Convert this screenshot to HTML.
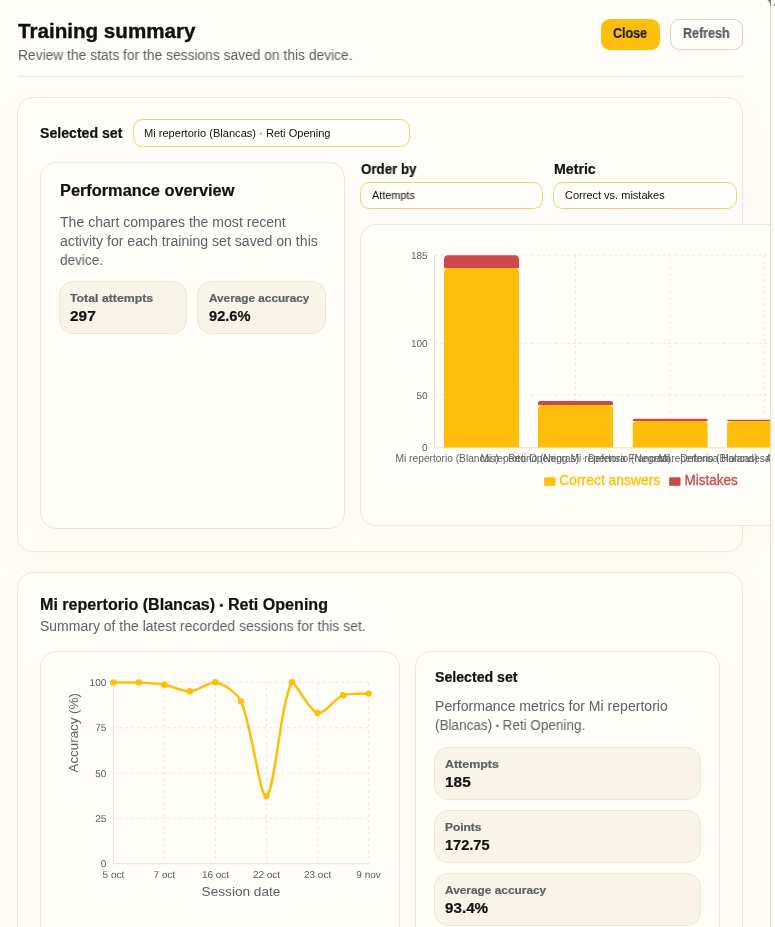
<!DOCTYPE html>
<html><head><meta charset="utf-8"><title>Training summary</title>
<style>
*{box-sizing:border-box;margin:0;padding:0}
html,body{width:775px;height:927px;overflow:hidden;background:#fffdf8;font-family:"Liberation Sans",sans-serif;color:#111}
#root{position:relative;width:775px;height:927px;overflow:hidden;background:#fffdf8}
.a{position:absolute}
.t{position:absolute;white-space:nowrap;line-height:1;transform-origin:0 0;will-change:transform}
.b{font-weight:bold;-webkit-text-stroke:.2px currentColor}
#title{-webkit-text-stroke:.35px #111}
svg{will-change:transform}
.card{position:absolute;border:1px solid #f1e6d3;border-radius:16px;background:#fffdf8}
.card{box-shadow:0 8px 20px rgba(215,165,80,.03)}
.outer{box-shadow:0 10px 24px rgba(215,165,80,.065)}
.stat{position:absolute;border:1px solid #f0e6d2;border-radius:14px;background:#f8f4ea}
.sel{position:absolute;border:1px solid #f3cf78;border-radius:9.500px;background:#fffefb;height:27px}
.g{color:#5d6168}
</style></head><body>
<div id="root">

<!-- header -->
<div class="t b" id="title" style="left:18.4px;top:21px;font-size:20px;transform:scaleX(1.030)">Training summary</div>
<div class="t g" id="subtitle" style="left:18.3px;top:48px;font-size:14px;transform:scaleX(0.986)">Review the stats for the sessions saved on this device.</div>
<div class="a" style="left:601px;top:19px;width:59px;height:30.700px;border-radius:9px;background:#fdbf0c"></div>
<div class="t b" id="close" style="left:613.3px;top:26px;font-size:14px;color:#1c1c1c;transform:scaleX(0.894)">Close</div>
<div class="a" style="left:670px;top:19px;width:73px;height:30.700px;border-radius:9px;border:1px solid #d4d4d4;background:#fffdf8"></div>
<div class="t b" id="refresh" style="left:683.4px;top:26px;font-size:14px;color:#555a62;transform:scaleX(0.896)">Refresh</div>
<div class="a" style="left:18px;top:76px;width:725px;height:1px;background:#f0e6d6"></div>

<!-- outer card 1 -->
<div class="card outer" style="left:17px;top:97px;width:726px;height:455px"></div>
<div class="t b" id="selset" style="left:40.2px;top:125.5px;font-size:14px;transform:scaleX(1.008)">Selected set</div>
<div class="sel" style="left:133px;top:119px;width:277px;height:28px"></div>
<div class="t" id="selval" style="left:144.4px;top:127.9px;font-size:11px;transform:scaleX(1.007)">Mi repertorio (Blancas) · Reti Opening</div>

<!-- performance card -->
<div class="card" style="left:40px;top:162px;width:305px;height:366.600px"></div>
<div class="t b" id="perf" style="left:59.9px;top:183px;font-size:16px;transform:scaleX(1.021)">Performance overview</div>
<div class="t g" id="p1" style="left:59.8px;top:214.5px;font-size:14px;transform:scaleX(1.004)">The chart compares the most recent</div>
<div class="t g" id="p2" style="left:59.8px;top:233.5px;font-size:14px;transform:scaleX(1.007)">activity for each training set saved on this</div>
<div class="t g" id="p3" style="left:59.8px;top:252.5px;font-size:14px;transform:scaleX(0.969)">device.</div>
<div class="stat" style="left:59px;top:281px;width:128px;height:53px"></div>
<div class="t b g" id="s1l" style="left:70.2px;top:292.6px;font-size:11.300px;transform:scaleX(1.089)">Total attempts</div>
<div class="t b" id="s1v" style="left:70.2px;top:309px;font-size:14px;transform:scaleX(1.100)">297</div>
<div class="stat" style="left:197px;top:281px;width:129px;height:53px"></div>
<div class="t b g" id="s2l" style="left:208.9px;top:292.6px;font-size:11.300px;transform:scaleX(1.042)">Average accuracy</div>
<div class="t b" id="s2v" style="left:208.9px;top:309px;font-size:14px;transform:scaleX(1.045)">92.6%</div>

<!-- order by / metric -->
<div class="t b" id="ord" style="left:360.6px;top:162px;font-size:14px;transform:scaleX(0.951)">Order by</div>
<div class="sel" style="left:360px;top:182px;width:183px"></div>
<div class="t" id="ordv" style="left:371.7px;top:190px;font-size:11px;transform:scaleX(0.986)">Attempts</div>
<div class="t b" id="met" style="left:554.0px;top:162px;font-size:14px;transform:scaleX(1.011)">Metric</div>
<div class="sel" style="left:553px;top:182px;width:184px"></div>
<div class="t" id="metv" style="left:565.2px;top:190px;font-size:11px;transform:scaleX(1.000)">Correct vs. mistakes</div>

<!-- bar chart card -->
<div class="card" style="left:360px;top:224px;width:440px;height:302px"></div>
<svg class="a" style="left:360px;top:224px" width="411" height="302" viewBox="360 224 411 302" id="bar" font-family="Liberation Sans, sans-serif">
<g stroke="#efe2cc" stroke-opacity=".8" stroke-width="1" stroke-dasharray="3 3" fill="none">
<path d="M434.500 255.200H771M434.500 343.300H771M434.500 395.200H771"/>
<path d="M575.500 255V447.500M670 255V447.500M764.500 255V447.500"/>
</g>
<path d="M434.500 255V447.800H771" stroke="#efe2cc" stroke-width="1" fill="none"/>
<!-- bars -->
<path d="M444 447.500V272a4 4 0 0 1 4-4h67a4 4 0 0 1 4 4V447.500z" fill="#fdbf0c"/>
<path d="M444 268V259.300a4 4 0 0 1 4-4h67a4 4 0 0 1 4 4V268z" fill="#cd4848"/>
<path d="M538 447.500V409a4 4 0 0 1 4-4h67a4 4 0 0 1 4 4V447.500z" fill="#fdbf0c"/>
<path d="M538 405V403a2 2 0 0 1 2-2h71a2 2 0 0 1 2 2V405z" fill="#cd4848"/>
<path d="M632.700 447.500V425a4 4 0 0 1 4-4h67a4 4 0 0 1 4 4V447.500z" fill="#fdbf0c"/>
<path d="M632.700 421V420.200a1.500 1.500 0 0 1 1.500-1.500h72a1.500 1.500 0 0 1 1.500 1.500V421z" fill="#cd4848"/>
<path d="M727 447.500V425a4 4 0 0 1 4-4h67a4 4 0 0 1 4 4V447.500z" fill="#fdbf0c"/>
<path d="M727 421V420.700a1 1 0 0 1 1-1h73a1 1 0 0 1 1 1V421z" fill="#cd4848"/>
<g font-size="10" text-rendering="geometricPrecision" fill="#575b61" text-anchor="end">
<text x="427.600" y="259">185</text><text x="427.600" y="346.900">100</text><text x="427.600" y="398.700">50</text><text x="427.600" y="450.800">0</text>
</g>
<g font-size="10" fill="#5f6368" text-anchor="middle">
<text x="481.500" y="461.500" textLength="172" lengthAdjust="spacingAndGlyphs">Mi repertorio (Blancas) · Reti Opening</text>
<text x="575.500" y="461.500" textLength="190" lengthAdjust="spacingAndGlyphs">Mi repertorio (Negras) · Defensa Francesa</text>
<text x="670.500" y="461.500" textLength="200" lengthAdjust="spacingAndGlyphs">Mi repertorio (Negras) · Defensa Holandesa</text>
<text x="764.500" y="461.500" textLength="212" lengthAdjust="spacingAndGlyphs">Mi repertorio (Blancas) · Apertura Italiana clasica</text>
</g>
<rect x="544.200" y="477.300" width="11.300" height="8.500" fill="#fdbf0c"/>
<text x="559.200" y="484.800" font-size="14" fill="#fdbf0c" stroke="#fdbf0c" stroke-width=".3" textLength="101.200" lengthAdjust="spacingAndGlyphs">Correct answers</text>
<rect x="669.200" y="477.300" width="11.300" height="8.500" fill="#cd4848"/>
<text x="684.500" y="484.800" font-size="14" fill="#cd4848" stroke="#cd4848" stroke-width=".3" textLength="53.300" lengthAdjust="spacingAndGlyphs">Mistakes</text>
</svg>

<!-- outer card 2 -->
<div class="card outer" style="left:17px;top:572px;width:726px;height:400px"></div>
<div class="t b" id="h2" style="left:40.3px;top:597px;font-size:16px;transform:scaleX(1.005)">Mi repertorio (Blancas) <span style="font-size:11px;position:relative;top:-1px">•</span> Reti Opening</div>
<div class="t g" id="h2s" style="left:40.3px;top:619px;font-size:14px;transform:scaleX(0.999)">Summary of the latest recorded sessions for this set.</div>
<div class="card" style="left:40px;top:651px;width:360px;height:320px"></div>
<svg class="a" style="left:40px;top:651px" width="360" height="276" viewBox="40 651 360 276" id="line" font-family="Liberation Sans, sans-serif">
<g stroke="#efe2cc" stroke-opacity=".8" stroke-width="1" stroke-dasharray="3 3" fill="none"><path d="M113 682.400H369M113 727.800H369M113 773.200H369M113 818.500H369"/><path d="M164.4 682V863.700M215.5 682V863.700M266.5 682V863.700M317.6 682V863.700M368.6 682V863.700"/></g>
<path d="M113.500 682V863.700H369" stroke="#efe2cc" stroke-width="1" fill="none"/>
<path d="M113.4 682.4C121.1 682.4 131.3 682.4 138.9 682.4C146.6 682.7 156.9 683.4 164.4 684.7C172.2 686.1 182.4 691.7 190.0 691.3C197.7 690.9 208.4 682.4 215.5 682.3C223.8 683.9 237.2 693.0 241.0 701.4C252.6 727.2 259.5 798.7 266.5 796.1C274.8 793.0 280.6 700.9 292.0 682.3C295.9 682.4 309.0 710.8 317.6 713.0C324.3 714.7 334.7 698.4 343.1 695.2C350.0 692.6 360.9 694.1 368.6 693.6" stroke="#fdbf0c" stroke-width="2.500" fill="none" stroke-linejoin="round" stroke-linecap="round"/>
<g fill="#fdbf0c"><circle cx="113.4" cy="682.4" r="3.2"/><circle cx="138.9" cy="682.4" r="3.2"/><circle cx="164.4" cy="684.7" r="3.2"/><circle cx="190.0" cy="691.3" r="3.2"/><circle cx="215.5" cy="682.3" r="3.2"/><circle cx="241.0" cy="701.4" r="3.2"/><circle cx="266.5" cy="796.1" r="3.2"/><circle cx="292.0" cy="682.3" r="3.2"/><circle cx="317.6" cy="713.0" r="3.2"/><circle cx="343.1" cy="695.2" r="3.2"/><circle cx="368.6" cy="693.6" r="3.2"/></g>
<g font-size="10" text-rendering="geometricPrecision" fill="#575b61" text-anchor="end"><text x="106.300" y="685.8">100</text><text x="106.300" y="731.2">75</text><text x="106.300" y="776.6">50</text><text x="106.300" y="821.9">25</text><text x="106.300" y="867.1">0</text></g>
<g font-size="10" text-rendering="geometricPrecision" fill="#575b61" text-anchor="middle"><text x="113.4" y="877.500">5 oct</text><text x="164.4" y="877.500">7 oct</text><text x="215.5" y="877.500">16 oct</text><text x="266.5" y="877.500">22 oct</text><text x="317.6" y="877.500">23 oct</text><text x="368.6" y="877.500">9 nov</text></g>
<text x="241" y="895.500" font-size="13" fill="#5f6368" text-anchor="middle" textLength="78.800" lengthAdjust="spacingAndGlyphs">Session date</text>
<text transform="translate(78.200 732.800) rotate(-90)" font-size="13" fill="#5f6368" text-anchor="middle" textLength="79.300" lengthAdjust="spacingAndGlyphs">Accuracy (%)</text>
</svg>
<div class="card" style="left:415px;top:651px;width:305px;height:320px"></div>
<div class="t b" id="ss2" style="left:434.6px;top:670.3px;font-size:14px;transform:scaleX(1.010)">Selected set</div>
<div class="t g" id="q1" style="left:434.6px;top:699px;font-size:14px;transform:scaleX(1.004)">Performance metrics for Mi repertorio</div>
<div class="t g" id="q2" style="left:434.6px;top:718px;font-size:14px;transform:scaleX(0.965)">(Blancas) <span style="font-size:9px;position:relative;top:-1px">•</span> Reti Opening.</div>
<div class="stat" style="left:434px;top:747px;width:267px;height:53px"></div>
<div class="t b g" id="a1l" style="left:445.0px;top:758.6px;font-size:11.300px;transform:scaleX(1.101)">Attempts</div>
<div class="t b" id="a1v" style="left:445.0px;top:775px;font-size:14px;transform:scaleX(1.100)">185</div>
<div class="stat" style="left:434px;top:810px;width:267px;height:53px"></div>
<div class="t b g" id="a2l" style="left:445.0px;top:821.6px;font-size:11.300px;transform:scaleX(1.057)">Points</div>
<div class="t b" id="a2v" style="left:445.0px;top:838px;font-size:14px;transform:scaleX(1.041)">172.75</div>
<div class="stat" style="left:434px;top:873px;width:267px;height:53px"></div>
<div class="t b g" id="a3l" style="left:445.0px;top:884.6px;font-size:11.300px;transform:scaleX(1.051)">Average accuracy</div>
<div class="t b" id="a3v" style="left:445.0px;top:901px;font-size:14px;transform:scaleX(1.086)">93.4%</div>

<!-- right edge -->
<div class="a" style="left:770px;top:0;width:1px;height:927px;background:#ecdcc0"></div>
<div class="a" style="left:771px;top:0;width:4px;height:927px;background:#fbfbfc"></div>
<svg class="a" style="left:760px;top:0" width="15" height="10" viewBox="760 0 15 10"><path d="M767.300 0C769.300 1.500 770.300 3.500 770.500 6.500L771 6.500V0z" fill="#85827e"/><rect x="773.800" y="4.300" width="1.200" height="1.600" fill="#8a8a8a"/></svg>
</div>
</body></html>
